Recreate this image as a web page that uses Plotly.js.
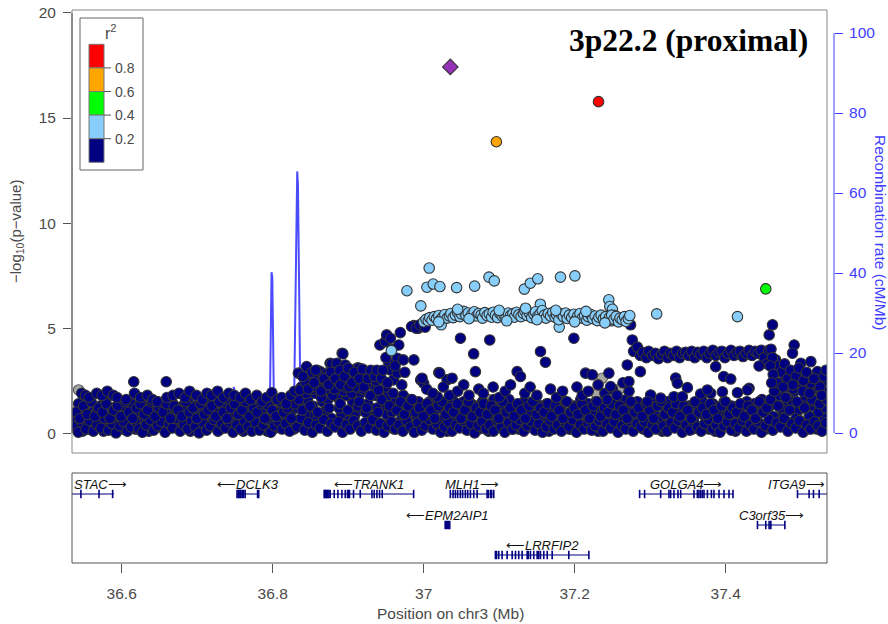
<!DOCTYPE html>
<html><head><meta charset="utf-8">
<script src="https://cdn.plot.ly/plotly-3.0.1.min.js"></script>
<style>body{margin:0;background:#fff}#chart{width:888px;height:624px}</style>
</head><body><div id="chart"></div>
<script>
// ---------------- DATA ----------------
// navy points (r2 < 0.2): [position Mb, -log10 p]
const navyPoints = [
// dense band, row A
[36.536,0.9],[36.541,0.3],[36.546,1.2],[36.551,0.6],[36.556,0.2],[36.561,1.0],[36.566,0.5],[36.571,1.3],[36.576,0.1],[36.581,0.8],[36.586,0.4],[36.591,1.1],[36.596,0.7],[36.601,0.2],[36.606,1.2],[36.611,0.5],[36.616,0.9],[36.621,0.3],[36.626,1.3],[36.631,0.6],[36.636,0.1],[36.641,1.0],[36.646,0.4],[36.651,1.2],[36.656,0.8],[36.661,0.2],[36.666,1.1],[36.671,0.6],[36.676,0.3],[36.681,1.3],[36.686,0.7],[36.691,0.1],[36.696,1.0],[36.701,0.5],[36.706,1.2],[36.711,0.3],[36.716,0.9],[36.721,0.6],[36.726,1.3],[36.731,0.2],[36.736,0.8],[36.741,1.1],[36.746,0.4],[36.751,1.2],[36.756,0.7],[36.761,0.1],[36.766,1.0],[36.771,0.5],[36.776,1.3],[36.781,0.3],[36.786,0.9],[36.791,0.6],[36.796,1.2],[36.801,0.2],[36.806,1.0],[36.811,0.7],[36.816,1.3],[36.821,0.4],[36.826,1.1],[36.831,0.6],[36.836,1.4],[36.841,0.3],[36.846,1.6],[36.851,0.8],[36.856,1.9],[36.861,0.5],[36.866,1.5],[36.871,1.1],[36.876,2.0],[36.881,0.4],[36.886,1.7],[36.891,0.9],[36.896,2.1],[36.901,0.6],[36.906,1.5],[36.911,1.0],[36.916,1.9],[36.921,0.3],[36.926,1.4],[36.931,0.8],[36.936,1.8],[36.941,0.5],[36.946,1.3],[36.951,0.9],[36.956,1.6],[36.961,0.2],[36.966,1.1],[36.971,0.7],[36.976,1.4],[36.981,0.4],[36.986,1.2],[36.991,0.8],[36.996,0.2],[37.001,1.3],[37.006,0.6],[37.011,1.0],[37.016,0.3],[37.021,1.2],[37.026,0.7],[37.031,0.1],[37.036,1.1],[37.041,0.5],[37.046,1.3],[37.051,0.8],[37.056,0.2],[37.061,1.0],[37.066,0.6],[37.071,1.3],[37.076,0.4],[37.081,0.9],[37.086,0.1],[37.091,1.2],[37.096,0.7],[37.101,0.3],[37.106,1.1],[37.111,0.5],[37.116,1.3],[37.121,0.8],[37.126,0.2],[37.131,1.0],[37.136,0.6],[37.141,1.2],[37.146,0.3],[37.151,0.9],[37.156,1.3],[37.161,0.5],[37.166,0.1],[37.171,1.1],[37.176,0.7],[37.181,1.2],[37.186,0.4],[37.191,0.9],[37.196,0.2],[37.201,1.3],[37.206,0.6],[37.211,1.0],[37.216,0.3],[37.221,1.2],[37.226,0.8],[37.231,0.1],[37.236,1.1],[37.241,0.5],[37.246,1.3],[37.251,0.7],[37.256,0.2],[37.261,1.0],[37.266,0.6],[37.271,1.2],[37.276,0.4],[37.281,0.9],[37.286,1.3],[37.291,0.2],[37.296,0.8],[37.301,1.1],[37.306,0.5],[37.311,1.3],[37.316,0.1],[37.321,0.9],[37.326,0.6],[37.331,1.2],[37.336,0.3],[37.341,1.0],[37.346,0.7],[37.351,1.3],[37.356,0.2],[37.361,0.9],[37.366,1.1],[37.371,0.4],[37.376,1.3],[37.381,0.6],[37.386,0.1],[37.391,1.0],[37.396,0.8],[37.401,1.2],[37.406,0.3],[37.411,0.9],[37.416,0.5],[37.421,1.3],[37.426,0.7],[37.431,0.2],[37.436,1.1],[37.441,0.6],[37.446,1.2],[37.451,0.4],[37.456,1.0],[37.461,1.5],[37.466,0.3],[37.471,1.8],[37.476,0.9],[37.481,1.4],[37.486,0.5],[37.491,2.0],[37.496,1.1],[37.501,0.4],[37.506,1.7],[37.511,0.8],[37.516,1.3],[37.521,0.2],[37.526,1.9],[37.531,0.7],
// dense band, row B
[36.538,0.6],[36.543,1.4],[36.548,0.1],[36.553,0.9],[36.558,1.5],[36.563,0.4],[36.568,1.1],[36.573,0.7],[36.578,1.6],[36.583,0.3],[36.588,1.2],[36.593,0.9],[36.598,1.5],[36.603,0.5],[36.608,0.8],[36.613,1.4],[36.618,0.2],[36.623,1.0],[36.628,1.6],[36.633,0.4],[36.638,1.1],[36.643,0.7],[36.648,1.5],[36.653,0.3],[36.658,1.0],[36.663,0.6],[36.668,1.4],[36.673,0.9],[36.678,0.2],[36.683,1.1],[36.688,1.5],[36.693,0.5],[36.698,1.3],[36.703,0.8],[36.708,0.2],[36.713,1.5],[36.718,0.4],[36.723,1.0],[36.728,0.7],[36.733,1.4],[36.738,0.3],[36.743,1.6],[36.748,0.9],[36.753,0.5],[36.758,1.4],[36.763,1.1],[36.768,0.3],[36.773,0.8],[36.778,1.5],[36.783,0.6],[36.788,1.2],[36.793,0.1],[36.798,1.6],[36.803,0.9],[36.808,0.4],[36.813,1.4],[36.818,0.8],[36.823,1.5],[36.828,0.2],[36.833,1.2],[36.838,2.2],[36.843,0.9],[36.848,2.4],[36.853,1.3],[36.858,0.6],[36.863,2.3],[36.868,1.0],[36.873,1.6],[36.878,0.7],[36.883,2.2],[36.888,1.2],[36.893,0.3],[36.898,1.8],[36.903,2.4],[36.908,0.8],[36.913,1.3],[36.918,2.2],[36.923,1.0],[36.928,2.5],[36.933,0.6],[36.938,1.2],[36.943,2.0],[36.948,0.4],[36.953,1.8],[36.958,1.0],[36.963,1.5],[36.968,0.5],[36.973,1.8],[36.978,0.9],[36.983,1.6],[36.988,0.3],[36.993,1.5],[36.998,1.0],[37.003,0.4],[37.008,1.5],[37.013,0.9],[37.018,1.6],[37.023,0.2],[37.028,1.4],[37.033,0.9],[37.038,1.6],[37.043,0.3],[37.048,1.1],[37.053,1.5],[37.058,0.6],[37.063,1.4],[37.068,0.9],[37.073,0.2],[37.078,1.5],[37.083,1.1],[37.088,0.6],[37.093,1.6],[37.098,0.4],[37.103,1.4],[37.108,0.9],[37.113,1.6],[37.118,0.2],[37.123,1.2],[37.128,0.6],[37.133,1.5],[37.138,1.0],[37.143,0.4],[37.148,1.6],[37.153,0.8],[37.158,0.3],[37.163,1.4],[37.168,1.0],[37.173,0.5],[37.178,1.6],[37.183,0.8],[37.188,1.5],[37.193,0.2],[37.198,1.1],[37.203,0.7],[37.208,1.6],[37.213,0.4],[37.218,1.4],[37.223,0.9],[37.228,1.5],[37.233,0.6],[37.238,0.2],[37.243,1.5],[37.248,1.0],[37.253,0.4],[37.258,1.4],[37.263,0.8],[37.268,1.6],[37.273,1.0],[37.278,0.3],[37.283,1.5],[37.288,0.7],[37.293,1.2],[37.298,0.4],[37.303,1.5],[37.308,0.8],[37.313,0.2],[37.318,1.3],[37.323,1.5],[37.328,0.3],[37.333,0.8],[37.338,1.5],[37.343,0.4],[37.348,1.1],[37.353,0.6],[37.358,1.4],[37.363,0.3],[37.368,1.6],[37.373,0.8],[37.378,0.2],[37.383,1.4],[37.388,1.0],[37.393,0.5],[37.398,1.5],[37.403,0.7],[37.408,1.3],[37.413,0.1],[37.418,1.0],[37.423,0.6],[37.428,1.5],[37.433,0.3],[37.438,1.4],[37.443,0.9],[37.448,1.6],[37.453,0.2],[37.458,1.3],[37.463,0.8],[37.468,2.1],[37.473,1.2],[37.478,0.5],[37.483,2.2],[37.488,1.5],[37.493,0.7],[37.498,2.3],[37.503,1.3],[37.508,0.2],[37.513,2.0],[37.518,1.5],[37.523,1.0],[37.528,2.4],[37.533,1.2],
// dense band, row C (low)
[36.5375,0.30],[36.5425,0.05],[36.5475,0.50],[36.5525,0.20],[36.5575,0.60],[36.5625,0.10],[36.5675,0.40],[36.5725,0.25],[36.5775,0.70],[36.5825,0.15],[36.5875,0.45],[36.5925,0.02],[36.5975,0.35],[36.6025,0.55],[36.6075,0.10],[36.6125,0.30],[36.6175,0.60],[36.6225,0.20],[36.6275,0.05],[36.6325,0.40],[36.6375,0.65],[36.6425,0.15],[36.6475,0.35],[36.6525,0.55],[36.6575,0.05],[36.6625,0.45],[36.6675,0.25],[36.6725,0.70],[36.6775,0.10],[36.6825,0.40],[36.6875,0.20],[36.6925,0.60],[36.6975,0.30],[36.7025,0.02],[36.7075,0.50],[36.7125,0.15],[36.7175,0.35],[36.7225,0.65],[36.7275,0.10],[36.7325,0.45],[36.7375,0.25],[36.7425,0.55],[36.7475,0.05],[36.7525,0.40],[36.7575,0.20],[36.7625,0.60],[36.7675,0.30],[36.7725,0.10],[36.7775,0.50],[36.7825,0.15],[36.7875,0.40],[36.7925,0.65],[36.7975,0.05],[36.8025,0.35],[36.8075,0.55],[36.8125,0.20],[36.8175,0.45],[36.8225,0.10],[36.8275,0.60],[36.8325,0.30],[36.8375,0.70],[36.8425,0.15],[36.8475,0.50],[36.8525,0.05],[36.8575,0.40],[36.8625,0.25],[36.8675,0.65],[36.8725,0.10],[36.8775,0.45],[36.8825,0.30],[36.8875,0.55],[36.8925,0.05],[36.8975,0.40],[36.9025,0.20],[36.9075,0.60],[36.9125,0.35],[36.9175,0.10],[36.9225,0.50],[36.9275,0.25],[36.9325,0.65],[36.9375,0.15],[36.9425,0.45],[36.9475,0.05],[36.9525,0.35],[36.9575,0.55],[36.9625,0.20],[36.9675,0.40],[36.9725,0.10],[36.9775,0.60],[36.9825,0.30],[36.9875,0.05],[36.9925,0.50],[36.9975,0.15],[37.0025,0.35],[37.0075,0.65],[37.0125,0.20],[37.0175,0.45],[37.0225,0.05],[37.0275,0.30],[37.0325,0.55],[37.0375,0.10],[37.0425,0.40],[37.0475,0.25],[37.0525,0.60],[37.0575,0.15],[37.0625,0.45],[37.0675,0.02],[37.0725,0.35],[37.0775,0.55],[37.0825,0.20],[37.0875,0.40],[37.0925,0.10],[37.0975,0.60],[37.1025,0.30],[37.1075,0.05],[37.1125,0.50],[37.1175,0.20],[37.1225,0.40],[37.1275,0.65],[37.1325,0.10],[37.1375,0.35],[37.1425,0.55],[37.1475,0.15],[37.1525,0.45],[37.1575,0.05],[37.1625,0.30],[37.1675,0.60],[37.1725,0.20],[37.1775,0.40],[37.1825,0.10],[37.1875,0.55],[37.1925,0.30],[37.1975,0.65],[37.2025,0.05],[37.2075,0.40],[37.2125,0.20],[37.2175,0.50],[37.2225,0.15],[37.2275,0.35],[37.2325,0.60],[37.2375,0.10],[37.2425,0.45],[37.2475,0.25],[37.2525,0.55],[37.2575,0.05],[37.2625,0.35],[37.2675,0.20],[37.2725,0.60],[37.2775,0.10],[37.2825,0.45],[37.2875,0.30],[37.2925,0.55],[37.2975,0.05],[37.3025,0.40],[37.3075,0.20],[37.3125,0.65],[37.3175,0.35],[37.3225,0.10],[37.3275,0.50],[37.3325,0.25],[37.3375,0.60],[37.3425,0.05],[37.3475,0.40],[37.3525,0.15],[37.3575,0.55],[37.3625,0.30],[37.3675,0.10],[37.3725,0.45],[37.3775,0.65],[37.3825,0.20],[37.3875,0.40],[37.3925,0.05],[37.3975,0.35],[37.4025,0.55],[37.4075,0.15],[37.4125,0.45],[37.4175,0.25],[37.4225,0.60],[37.4275,0.10],[37.4325,0.40],[37.4375,0.20],[37.4425,0.55],[37.4475,0.05],[37.4525,0.35],[37.4575,0.65],[37.4625,0.15],[37.4675,0.50],[37.4725,0.30],[37.4775,0.70],[37.4825,0.10],[37.4875,0.45],[37.4925,0.25],[37.4975,0.60],[37.5025,0.05],[37.5075,0.40],[37.5125,0.20],[37.5175,0.55],[37.5225,0.35],[37.5275,0.10],[37.5325,0.50],
// dense band, row D (mid)
[36.5395,1.0],[36.5445,0.7],[36.5495,1.3],[36.5545,0.9],[36.5595,1.5],[36.5645,0.8],[36.5695,1.2],[36.5745,1.0],[36.5795,1.4],[36.5845,0.7],[36.5895,1.1],[36.5945,1.3],[36.5995,0.8],[36.6045,1.5],[36.6095,1.0],[36.6145,0.7],[36.6195,1.2],[36.6245,1.4],[36.6295,0.9],[36.6345,1.1],[36.6395,1.5],[36.6445,0.8],[36.6495,1.2],[36.6545,1.0],[36.6595,1.4],[36.6645,0.7],[36.6695,1.3],[36.6745,1.1],[36.6795,0.8],[36.6845,1.5],[36.6895,1.0],[36.6945,1.2],[36.6995,0.7],[36.7045,1.4],[36.7095,0.9],[36.7145,1.1],[36.7195,1.3],[36.7245,0.8],[36.7295,1.5],[36.7345,1.0],[36.7395,0.7],[36.7445,1.2],[36.7495,1.4],[36.7545,0.9],[36.7595,1.1],[36.7645,1.5],[36.7695,0.8],[36.7745,1.2],[36.7795,1.0],[36.7845,1.4],[36.7895,0.7],[36.7945,1.3],[36.7995,1.1],[36.8045,0.8],[36.8095,1.5],[36.8145,1.0],[36.8195,1.2],[36.8245,0.7],[36.8295,1.4],[36.8345,1.6],[36.8395,1.1],[36.8445,1.9],[36.8495,1.3],[36.8545,2.1],[36.8595,1.0],[36.8645,1.7],[36.8695,2.3],[36.8745,1.2],[36.8795,1.8],[36.8845,2.5],[36.8895,1.4],[36.8945,2.0],[36.8995,1.1],[36.9045,1.9],[36.9095,2.6],[36.9145,1.5],[36.9195,2.1],[36.9245,1.2],[36.9295,1.8],[36.9345,2.3],[36.9395,1.0],[36.9445,1.6],[36.9495,2.2],[36.9545,1.3],[36.9595,1.9],[36.9645,1.1],[36.9695,1.5],[36.9745,0.9],[36.9795,1.3],[36.9845,1.6],[36.9895,1.0],[36.9945,1.2],[36.9995,0.8],[37.0045,1.4],[37.0095,1.1],[37.0145,0.7],[37.0195,1.3],[37.0245,1.5],[37.0295,0.9],[37.0345,1.2],[37.0395,1.0],[37.0445,1.4],[37.0495,0.7],[37.0545,1.1],[37.0595,1.5],[37.0645,0.8],[37.0695,1.2],[37.0745,1.0],[37.0795,1.4],[37.0845,0.9],[37.0895,1.3],[37.0945,1.1],[37.0995,0.7],[37.1045,1.5],[37.1095,1.0],[37.1145,1.2],[37.1195,0.8],[37.1245,1.4],[37.1295,1.1],[37.1345,0.7],[37.1395,1.3],[37.1445,1.5],[37.1495,0.9],[37.1545,1.2],[37.1595,1.0],[37.1645,1.4],[37.1695,0.8],[37.1745,1.3],[37.1795,1.1],[37.1845,0.7],[37.1895,1.5],[37.1945,1.0],[37.1995,1.2],[37.2045,0.9],[37.2095,1.4],[37.2145,1.1],[37.2195,0.7],[37.2245,1.3],[37.2295,1.5],[37.2345,0.8],[37.2395,1.2],[37.2445,1.0],[37.2495,1.4],[37.2545,0.9],[37.2595,1.3],[37.2645,1.1],[37.2695,0.7],[37.2745,1.5],[37.2795,1.0],[37.2845,1.2],[37.2895,0.8],[37.2945,1.4],[37.2995,1.1],[37.3045,0.7],[37.3095,1.3],[37.3145,1.5],[37.3195,0.9],[37.3245,1.2],[37.3295,1.0],[37.3345,1.4],[37.3395,0.8],[37.3445,1.3],[37.3495,1.1],[37.3545,0.7],[37.3595,1.5],[37.3645,1.0],[37.3695,1.2],[37.3745,0.9],[37.3795,1.4],[37.3845,1.1],[37.3895,0.7],[37.3945,1.3],[37.3995,1.5],[37.4045,0.9],[37.4095,1.2],[37.4145,1.0],[37.4195,1.4],[37.4245,0.8],[37.4295,1.3],[37.4345,1.1],[37.4395,0.7],[37.4445,1.5],[37.4495,1.0],[37.4545,1.2],[37.4595,1.6],[37.4645,2.0],[37.4695,1.3],[37.4745,2.4],[37.4795,1.7],[37.4845,1.1],[37.4895,2.1],[37.4945,1.5],[37.4995,2.6],[37.5045,1.2],[37.5095,2.2],[37.5145,1.6],[37.5195,2.5],[37.5245,1.4],[37.5295,2.0],[37.5335,1.6],
// upper fringe, left region
[36.547,1.9],[36.552,1.8],[36.557,1.7],[36.567,1.9],[36.574,1.8],[36.581,2.0],[36.589,1.8],[36.594,1.7],[36.606,1.6],[36.616,2.45],[36.617,1.9],[36.625,1.7],[36.634,1.8],[36.641,1.6],[36.647,1.5],[36.659,2.45],[36.660,1.7],[36.668,1.8],[36.676,1.9],[36.684,1.7],[36.690,2.0],[36.699,1.8],[36.707,1.6],[36.713,1.9],[36.719,1.8],[36.727,2.0],[36.735,1.7],[36.742,1.9],[36.749,1.8],[36.757,1.7],[36.764,1.9],[36.771,1.6],[36.779,1.8],[36.786,1.5],[36.792,1.7],[36.799,1.93],[36.806,1.6],[36.812,1.7],[36.818,1.4],[36.824,1.8],[36.829,2.0],
// TRANK1 region, raised
[36.834,2.86],[36.836,2.06],[36.845,3.17],[36.849,2.6],[36.852,2.9],[36.859,3.0],[36.861,2.7],[36.863,2.93],[36.866,2.5],[36.872,2.86],[36.876,3.33],[36.878,3.3],[36.880,2.7],[36.885,3.33],[36.887,2.4],[36.892,3.81],[36.893,3.78],[36.896,3.25],[36.898,2.9],[36.903,2.54],[36.906,2.8],[36.912,3.1],[36.914,3.1],[36.916,2.4],[36.918,2.7],[36.923,2.9],[36.929,2.7],[36.933,2.3],[36.940,2.06],[36.844,2.4],[36.858,2.2],[36.870,2.1],[36.882,2.1],[36.896,2.2],[36.910,2.2],[36.924,2.3],[36.937,2.5],[36.942,4.2],[36.949,4.36],[36.951,4.68],[36.954,3.33],[36.956,4.52],[36.956,3.01],[36.960,2.54],[36.965,3.57],[36.965,2.86],[36.969,4.79],[36.971,2.3],[36.973,3.49],[36.987,3.49],[36.987,5.12],[36.993,5.0],[36.996,2.54],[37.000,2.38],[37.020,2.89],[37.018,1.74],[37.031,2.54],
[36.840,2.7],[36.847,2.1],[36.855,2.4],[36.857,3.0],[36.864,2.0],[36.868,2.6],[36.874,2.3],[36.877,2.9],[36.883,2.6],[36.889,3.0],[36.890,2.3],[36.895,2.7],[36.900,3.1],[36.901,2.2],[36.905,2.4],[36.908,2.9],[36.915,2.6],[36.919,3.05],[36.921,2.2],[36.926,2.6],[36.930,3.0],[36.935,2.7],[36.938,3.0],[36.944,2.6],[36.946,3.0],[36.950,3.6],[36.952,2.4],[36.958,4.0],[36.962,3.2],[36.967,4.2],[36.975,2.9],
[36.984,5.08],[36.990,5.0],[36.995,5.16],[37.002,5.05],
// MLH1 / LRRFIP2 region
[37.0487,4.52],[37.0875,4.44],[37.1989,4.52],[37.0662,3.78],[37.1547,3.89],[37.1613,3.38],[37.0212,2.86],[37.0376,2.62],[37.0685,2.93],[37.1238,2.93],[37.1282,2.70],[37.2144,2.86],[37.2233,2.78],[37.2453,2.86],[37.2697,3.25],[37.2763,4.44],[37.2740,5.16],[36.9978,2.62],
[37.004,2.1],[37.012,1.9],[37.026,2.2],[37.034,1.8],[37.045,2.0],[37.053,2.3],[37.060,1.8],[37.073,2.1],[37.079,1.9],[37.092,2.2],[37.100,1.7],[37.108,2.0],[37.115,2.3],[37.134,1.9],[37.141,2.2],[37.150,1.8],[37.168,2.1],[37.176,1.7],[37.184,2.0],[37.203,2.2],[37.210,1.8],[37.218,2.0],[37.231,2.3],[37.240,1.9],[37.250,2.1],[37.256,1.8],[37.264,2.4],[37.272,2.0],
// GOLGA4 ridge
[37.278,3.9],[37.283,4.1],[37.287,3.7],[37.290,3.85],[37.295,3.6],[37.298,3.9],[37.303,3.7],[37.307,3.8],[37.311,3.55],[37.315,3.75],[37.319,3.9],[37.323,3.6],[37.327,3.8],[37.331,3.7],[37.335,3.9],[37.339,3.6],[37.343,3.8],[37.347,3.85],[37.351,3.7],[37.355,3.9],[37.359,3.6],[37.363,3.85],[37.367,3.75],[37.371,3.9],[37.375,3.6],[37.379,3.8],[37.383,3.95],[37.387,3.7],[37.391,3.85],[37.395,3.9],[37.399,3.6],[37.403,3.8],[37.407,3.95],[37.411,3.7],[37.415,3.85],[37.419,3.9],[37.423,3.65],[37.427,3.8],[37.431,3.95],[37.435,3.7],[37.439,3.9],[37.443,3.8],[37.447,3.95],[37.451,3.6],[37.455,3.3],[37.457,3.95],
[37.3338,2.63],[37.3360,2.38],[37.3493,2.17],[37.3868,3.17],[37.3974,2.70],[37.4067,2.58],[37.4310,2.14],[37.3669,1.87],[37.3802,1.90],[37.4156,1.93],[37.4442,3.20],[37.3006,1.82],[37.3139,1.67],[37.3758,2.06],[37.3957,1.97],[37.4288,2.06],[37.2718,2.46],[37.2476,2.22],[37.2432,1.59],[37.3315,1.74],[37.3426,1.74],[37.2962,1.5],[37.287,2.93],
// ITGA9 region
[37.4576,4.68],[37.4620,5.16],[37.4907,4.2],[37.4885,3.81],[37.4995,3.33],[37.5128,3.41],[37.5216,2.93],[37.5128,2.38],[37.466,3.5],[37.470,3.2],[37.474,2.9],[37.478,3.3],[37.482,2.6],[37.486,3.0],[37.493,2.7],[37.497,3.1],[37.503,2.5],[37.507,2.9],[37.517,2.6],[37.525,2.2],[37.530,2.7],[37.533,3.0],[37.468,2.4],[37.476,2.2],[37.489,2.3],[37.502,2.0],[37.511,1.9],[37.527,1.8],[37.460,4.0],[37.462,3.6],[37.459,3.2],[37.463,2.8],[37.461,2.4]
];
// light blue points (0.2 <= r2 < 0.4)
const lightBluePoints = [
[36.9778,6.78],[37.0073,7.86],[37.0043,6.95],[37.0126,7.1],[37.0215,6.98],[37.0436,6.93],[37.0675,7.0],[37.0865,7.43],[37.0935,7.25],[37.1333,6.86],[37.1413,7.14],[37.1511,7.35],[37.1812,7.43],[37.2003,7.49],[36.9962,6.06],[37.1545,6.14],[37.2452,6.35],[37.2465,6.03],[37.1795,5.05],[37.0232,5.16],[36.9572,3.93],[37.3086,5.68],[37.4156,5.55],[37.250,5.9],[37.253,5.6],[37.249,5.35],
[37.000,5.30],[37.003,5.42],[37.006,5.35],[37.008,5.50],[37.011,5.38],[37.014,5.55],[37.017,5.45],[37.020,5.60],[37.022,5.40],[37.025,5.52],[37.028,5.65],[37.031,5.48],[37.034,5.58],[37.036,5.70],[37.039,5.50],[37.042,5.62],[37.045,5.75],[37.048,5.55],[37.050,5.68],[37.053,5.80],[37.056,5.60],[37.059,5.72],[37.062,5.52],[37.064,5.66],[37.067,5.78],[37.070,5.58],[37.073,5.70],[37.076,5.62],[37.078,5.48],[37.081,5.74],[37.084,5.60],[37.087,5.68],[37.090,5.52],[37.092,5.76],[37.095,5.62],[37.098,5.50],[37.101,5.70],[37.104,5.58],[37.106,5.66],[37.109,5.48],[37.112,5.72],[37.115,5.60],[37.118,5.68],[37.120,5.52],[37.123,5.76],[37.126,5.64],[37.129,5.55],[37.132,5.70],[37.134,5.82],[37.137,5.60],[37.140,5.72],[37.143,5.50],[37.146,5.66],[37.148,5.78],[37.151,5.56],[37.154,5.68],[37.157,5.84],[37.160,5.62],[37.162,5.48],[37.165,5.70],[37.168,5.58],[37.171,5.75],[37.174,5.52],[37.176,5.64],[37.179,5.40],[37.182,5.68],[37.185,5.55],[37.188,5.72],[37.190,5.46],[37.193,5.62],[37.196,5.50],[37.199,5.66],[37.202,5.42],[37.204,5.58],[37.207,5.70],[37.210,5.48],[37.213,5.60],[37.216,5.38],[37.218,5.55],[37.221,5.66],[37.224,5.45],[37.227,5.58],[37.230,5.36],[37.232,5.52],[37.235,5.62],[37.238,5.44],[37.241,5.55],[37.244,5.35],[37.246,5.50],[37.249,5.62],[37.252,5.42],[37.255,5.56],[37.258,5.30],[37.260,5.48],[37.263,5.40],[37.266,5.55],[37.268,5.32],[37.271,5.45],[37.273,5.60],
[37.020,5.30],[37.060,5.45],[37.110,5.35],[37.150,5.40],[37.200,5.30],[37.240,5.25],[37.045,5.90],[37.100,5.85],[37.135,5.95],[37.175,5.85],[37.215,5.80]
];
// grey points (no r2)
const greyPoints = [
[36.543,2.06],[36.653,1.46],[37.2365,2.62],[37.2608,2.14],[37.1945,1.35],[37.0862,1.59],[37.2290,1.87],[36.912,2.38],[36.920,2.4],[36.905,2.38],[36.915,2.38],[36.925,2.4],[36.930,2.4],[36.700,0.9],[37.400,1.0],[37.505,1.0],[36.750,0.5]
];
const greenPoints = [[37.4531,6.87]];
const orangePoints = [[37.0963,13.87]];
const redPoints = [[37.2316,15.78]];
const leadSnp = [[37.0353,17.43]];

// recombination rate (cM/Mb)
const recPos = [36.534,36.55,36.57,36.59,36.61,36.63,36.65,36.67,36.69,36.71,36.73,36.745,36.7485,36.7495,36.752,36.77,36.79,36.796,36.7985,36.7995,36.802,36.815,36.828,36.8315,36.8325,36.8335,36.8345,36.837,36.85,36.88,36.92,36.96,37.0,37.05,37.10,37.15,37.20,37.25,37.30,37.35,37.40,37.44,37.47,37.50,37.512,37.5155,37.518,37.526,37.5295,37.534];
const recRate = [0.8,1.2,0.6,1.5,0.9,1.8,0.7,1.1,2.0,0.8,1.4,1.0,11.5,10.5,1.2,0.9,1.3,2.5,40.2,39,2.0,1.1,2.5,55,65.4,62,40,3.0,1.5,0.9,1.2,0.6,0.4,0.3,0.3,0.2,0.4,0.5,0.6,0.4,0.7,1.2,2.0,3.5,4.0,14.2,5.0,6.0,13.5,13.0];

// genes
const geneNames  = ['STAC','DCLK3','TRANK1','EPM2AIP1','MLH1','LRRFIP2','GOLGA4','C3orf35','ITGA9'];
const geneStart  = [36.44,36.7528,36.8682,37.0280,37.0353,37.0950,37.2860,37.4421,37.4951];
const geneEnd    = [36.590,36.7820,36.9867,37.0350,37.0928,37.2188,37.4097,37.4784,37.60];
const geneStrand = ['+','-','-','-','+','-','+','+','+'];
const geneRow    = [1,1,1,2,1,3,1,2,1];
const geneExons  = [
 [36.546,36.570,36.588],
 [36.7528,36.7545,36.7555,36.7570,36.7581,36.7600,36.7615,36.7635,36.7800,36.7815],
 [36.8682,36.8695,36.8705,36.8718,36.8730,36.8745,36.8762,36.8815,36.8864,36.8917,36.8961,36.8991,36.9005,36.9018,36.9071,36.9160,36.9315,36.9345,36.9381,36.9416,36.9451,36.9867],
 [37.0285,37.0300,37.0315,37.0330,37.0345],
 [37.0353,37.0389,37.0420,37.0450,37.0486,37.0516,37.0552,37.0583,37.0619,37.0663,37.0708,37.0840,37.0855,37.0884,37.0900,37.0928],
 [37.0950,37.0965,37.0994,37.1039,37.1105,37.1172,37.1216,37.1259,37.1304,37.1371,37.1385,37.1414,37.1458,37.1503,37.1524,37.1547,37.1591,37.1636,37.1702,37.1922,37.2188],
 [37.2860,37.2926,37.3139,37.3249,37.3271,37.3315,37.3368,37.3404,37.3580,37.3625,37.3646,37.3669,37.3691,37.3713,37.3758,37.3811,37.3845,37.3912,37.3978,37.4044,37.4097],
 [37.4421,37.4531,37.4575,37.4598,37.4784],
 [37.4951,37.5105,37.5163,37.5238]
];

const yTicksP   = [0,5,10,15,20];
const yTicksRec = [0,20,40,60,80,100];
const xTicks    = [36.6,36.8,37,37.2,37.4];
const legendColors = ['#ff0000','#ffa500','#00ff00','#87cefa','#000080'];
const legendTicks  = ['0.8','0.6','0.4','0.2'];

// ---------------- DRAWING ----------------
const W=888,H=624;
const PX = v => v/W, PY = v => 1 - v/H;
const FONT = '"Liberation Sans", Arial, Helvetica, sans-serif';
const xRange = [36.5342, 37.5342];
const plotL=72, plotR=827, mainT=10, mainB=453, geneT=473, geneB=563;
const OUT = '#333333';

function pts(arr, color, size, symbol, lineColor){
  return {type:'scatter', mode:'markers', xaxis:'x', yaxis:'y2',
    x: arr.map(p=>p[0]), y: arr.map(p=>p[1]), hoverinfo:'skip',
    marker:{color:color, size:size, symbol:symbol||'circle', line:{color:lineColor||OUT, width:1.1}}};
}

const traces = [];
traces.push({type:'scatter', mode:'lines', x:recPos, y:recRate, xaxis:'x', yaxis:'y',
  line:{color:'rgba(45,45,255,0.85)', width:2}, hoverinfo:'skip'});
traces.push(pts(greyPoints,'#a6a6a6',10.5,'circle','#555'));
traces.push(pts(navyPoints,'#000080',10.5));
traces.push(pts(lightBluePoints,'#87cefa',10.5));
traces.push(pts(greenPoints,'#00ff00',10.5));
traces.push(pts(orangePoints,'#ffa500',10.5));
traces.push(pts(redPoints,'#ff0000',10.5));
traces.push(pts(leadSnp,'#9632b8',12,'diamond'));

const rowLineY = {1:69, 2:38, 3:8};
const annotations = [];
geneNames.forEach((g,i)=>{
  const ly = rowLineY[geneRow[i]];
  traces.push({type:'scatter', mode:'lines', xaxis:'x', yaxis:'y3', x:[geneStart[i],geneEnd[i]], y:[ly,ly],
    line:{color:'#000080', width:1}, hoverinfo:'skip'});
  traces.push({type:'scatter', mode:'markers', xaxis:'x', yaxis:'y3', x:geneExons[i], y:geneExons[i].map(()=>ly),
    marker:{symbol:'line-ns', size:6, line:{color:'#000080', width:1.6}}, hoverinfo:'skip'});
  const vs = Math.max(geneStart[i], xRange[0]), ve = Math.min(geneEnd[i], xRange[1]);
  let cx = (vs+ve)/2;
  const txt = geneStrand[i]==='+' ? '<i>'+g+'</i>\u27F6' : '\u27F5<i>'+g+'</i>';
  const halfW = (g.length*8.2+16)/2 / 755;
  cx = Math.max(xRange[0]+halfW+0.006, Math.min(xRange[1]-halfW-0.002, cx));
  annotations.push({xref:'x', yref:'y3', x:cx, y:ly+10, text:txt, showarrow:false,
    font:{family:FONT, size:13, color:'#111'}, xanchor:'center', yanchor:'middle'});
});

// titles
annotations.push({xref:'paper', yref:'paper', x:PX(810), y:PY(40), xanchor:'right', yanchor:'middle',
  text:'<b>3p22.2 (proximal)</b>', showarrow:false, font:{family:'"Liberation Serif", "Times New Roman", serif', size:31.5, color:'#000'}});
annotations.push({xref:'paper', yref:'paper', x:PX(16), y:PY(232), xanchor:'center', yanchor:'middle', textangle:-90,
  text:'\u2212log<sub>10</sub>(p\u2212value)', showarrow:false, font:{family:FONT, size:15, color:'#4a4a4a'}});
annotations.push({xref:'paper', yref:'paper', x:PX(881), y:PY(233), xanchor:'center', yanchor:'middle', textangle:90,
  text:'Recombination rate (cM/Mb)', showarrow:false, font:{family:FONT, size:15.5, color:'#4040ff'}});
annotations.push({xref:'paper', yref:'paper', x:PX(450), y:PY(613), xanchor:'center', yanchor:'middle',
  text:'Position on chr3 (Mb)', showarrow:false, font:{family:FONT, size:15.5, color:'#4a4a4a'}});

// legend + boxes
const shapes = [];
shapes.push({type:'rect', xref:'paper', yref:'paper', x0:PX(plotL), x1:PX(plotR), y0:PY(mainB), y1:PY(mainT), line:{color:'#888', width:1}});
shapes.push({type:'rect', xref:'paper', yref:'paper', x0:PX(plotL), x1:PX(plotR), y0:PY(geneB), y1:PY(geneT), line:{color:'#555', width:1}});
shapes.push({type:'rect', xref:'paper', yref:'paper', x0:PX(80), x1:PX(143), y0:PY(170), y1:PY(18), line:{color:'#666', width:1}, fillcolor:'#fff'});
const barT=44.3, barStep=23.6;
legendColors.forEach((c,i)=>{
  shapes.push({type:'rect', xref:'paper', yref:'paper', x0:PX(89), x1:PX(104), y0:PY(barT+(i+1)*barStep), y1:PY(barT+i*barStep),
    fillcolor:c, line:{color:'#777', width:1}});
});
legendTicks.forEach((t,i)=>{
  const yy = barT+(i+1)*barStep;
  shapes.push({type:'line', xref:'paper', yref:'paper', x0:PX(104), x1:PX(111), y0:PY(yy), y1:PY(yy), line:{color:'#555', width:1}});
  annotations.push({xref:'paper', yref:'paper', x:PX(113), y:PY(yy), xanchor:'left', yanchor:'middle', text:t, showarrow:false,
    font:{family:FONT, size:14, color:'#4a4a4a'}});
});
annotations.push({xref:'paper', yref:'paper', x:PX(111), y:PY(32), xanchor:'center', yanchor:'middle', text:'r<sup>2</sup>', showarrow:false,
  font:{family:FONT, size:16, color:'#4a4a4a'}});

shapes.push({type:'line', xref:'paper', yref:'y', x0:PX(834), x1:PX(834), y0:0, y1:100, line:{color:'#4040ff', width:1}});
shapes.push({type:'line', xref:'paper', yref:'y2', x0:PX(72), x1:PX(72), y0:0, y1:20, line:{color:'#555', width:1}});

const layout = {
  width:W, height:H, margin:{l:0,r:0,t:0,b:0}, paper_bgcolor:'#fff', plot_bgcolor:'rgba(0,0,0,0)', showlegend:false,
  font:{family:FONT, color:'#4a4a4a', size:15},
  xaxis:{domain:[PX(plotL),PX(plotR)], range:xRange, anchor:'y3', tickvals:xTicks, ticks:'outside', ticklen:9, tickwidth:1,
    tickcolor:'#555', showline:false, showgrid:false, zeroline:false, tickfont:{family:FONT, size:15.5, color:'#4a4a4a'}, ticklabelstandoff:7},
  yaxis:{domain:[PY(mainB),PY(mainT)], range:[-5.0,105.75], anchor:'free', position:PX(834), side:'right', tickvals:yTicksRec,
    ticks:'outside', ticklen:8, tickwidth:1, tickcolor:'#4040ff', tickfont:{family:FONT, size:15.5, color:'#4040ff'},
    showgrid:false, zeroline:false, showline:false, ticklabelstandoff:3},
  yaxis2:{overlaying:'y', anchor:'x', side:'left', range:[-0.94,20.14], tickvals:yTicksP, ticks:'outside', ticklen:8, tickwidth:1,
    tickcolor:'#555', tickfont:{family:FONT, size:15.5, color:'#4a4a4a'}, showgrid:false, zeroline:false, showline:false, ticklabelstandoff:4},
  yaxis3:{domain:[PY(geneB),PY(geneT)], range:[0,90], anchor:'x', visible:false},
  shapes:shapes, annotations:annotations
};
Plotly.newPlot('chart', traces, layout, {staticPlot:true, displayModeBar:false});
</script></body></html>
